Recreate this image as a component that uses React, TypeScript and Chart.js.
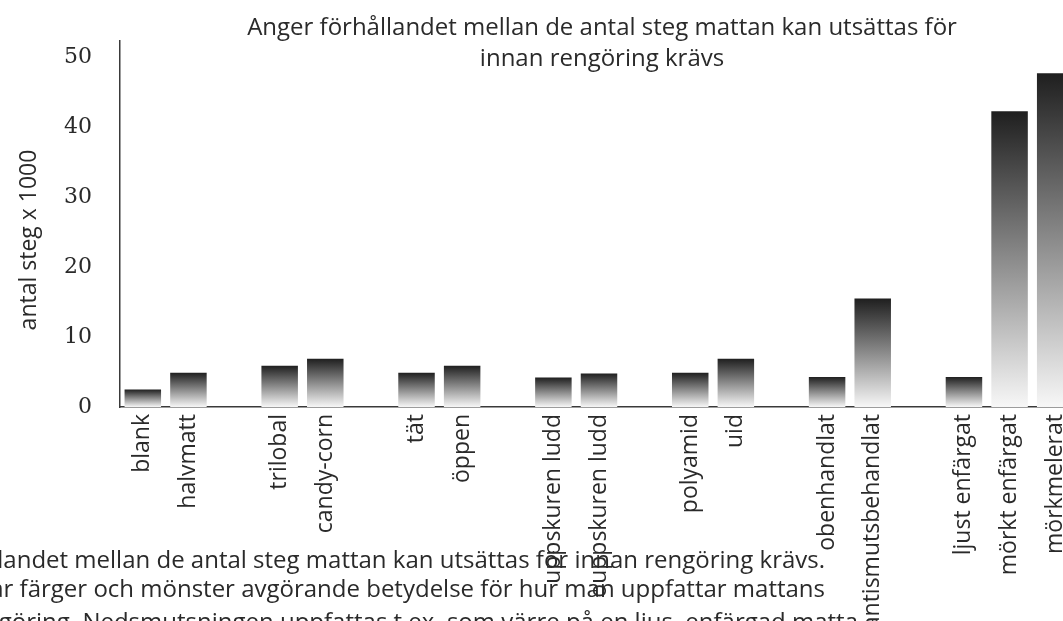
import React, { useEffect, useRef } from 'react';
import { Chart, registerables } from 'chart.js';

Chart.register(...registerables);

const categories = [
  'blank', 'halvmatt', '',
  'trilobal', 'candy-corn', '',
  'tät', 'öppen', '',
  'uppskuren ludd', 'ouppskuren ludd', '',
  'polyamid', 'uid', '',
  'obenhandlat', 'antismutsbehandlat', '',
  'ljust enfärgat', 'mörkt enfärgat', 'mörkmelerat',
];

const stepsThousands = [
  2.5, 4.9, null,
  5.9, 6.9, null,
  4.9, 5.9, null,
  4.2, 4.8, null,
  4.9, 6.9, null,
  4.3, 15.5, null,
  4.3, 42.3, 47.7,
];

const yTickValues = [0, 10, 20, 30, 40, 50];

const titleLines = [
  'Anger förhållandet mellan de antal steg mattan kan utsättas för',
  'innan rengöring krävs',
];

const yAxisTitle = 'antal steg x 1000';

const captionLines = [
  'förhållandet mellan de antal steg mattan kan utsättas för innan rengöring krävs.',
  'har färger och mönster avgörande betydelse för hur man uppfattar mattans',
  'rengöring. Nedsmutsningen uppfattas t ex. som värre på en ljus, enfärgad matta',
];

const SANS = '"Open Sans", "Noto Sans", sans-serif';
const SERIF = '"DejaVu Serif", "Liberation Serif", serif';
const INK = '#2a2a2a';

const overlayText = {
  id: 'overlayText',
  afterDraw(chart: any) {
    const { ctx, chartArea } = chart;
    ctx.save();
    ctx.fillStyle = INK;
    ctx.textBaseline = 'alphabetic';

    // title
    ctx.textAlign = 'center';
    ctx.font = `24px ${SANS}`;
    const cx = (chartArea.left + chartArea.right) / 2 + 3;
    ctx.fillText(titleLines[0], cx, 35);
    ctx.fillText(titleLines[1], cx, 66);

    // y axis title
    ctx.save();
    ctx.translate(36, 240);
    ctx.rotate(-Math.PI / 2);
    ctx.font = `23px ${SANS}`;
    ctx.textAlign = 'center';
    ctx.fillText(yAxisTitle, 0, 0);
    ctx.restore();

    // caption text below the chart
    ctx.textAlign = 'right';
    ctx.font = `24px ${SANS}`;
    ctx.fillText(captionLines[0], 825, 568);
    ctx.fillText(captionLines[1], 825, 597);
    ctx.fillText(captionLines[2], 858, 630);
    ctx.restore();
  },
};

function barGradient(context: any) {
  const chart = context.chart;
  const { ctx, chartArea, scales } = chart;
  if (context.type !== 'data' || !chartArea || !scales || !scales.y) return '#555';
  const v = context.raw;
  if (v == null) return 'rgba(0,0,0,0)';
  const top = scales.y.getPixelForValue(v);
  const base = scales.y.getPixelForValue(0);
  if (!isFinite(top) || !isFinite(base) || top === base) return '#555';
  const g = ctx.createLinearGradient(0, top, 0, base);
  g.addColorStop(0, '#1f1f1f');
  g.addColorStop(1, '#f7f7f7');
  return g;
}

export default function App() {
  const canvasRef = useRef<HTMLCanvasElement | null>(null);

  useEffect(() => {
    const canvas = canvasRef.current;
    if (!canvas) return;
    const chart = new Chart(canvas, {
      type: 'bar',
      data: {
        labels: categories,
        datasets: [
          {
            data: stepsThousands,
            backgroundColor: barGradient,
            borderWidth: 0,
            barPercentage: 0.8,
            categoryPercentage: 1,
          },
        ],
      },
      options: {
        responsive: false,
        animation: false,
        devicePixelRatio: 1,
        layout: { padding: { top: 38, right: 22, left: 0, bottom: 0 } },
        plugins: {
          legend: { display: false },
          title: { display: false },
          tooltip: { enabled: false },
        },
        scales: {
          x: {
            type: 'category',
            offset: true,
            grid: { display: false, drawTicks: false },
            border: { display: true, color: '#3a3a3a', width: 1.5 },
            ticks: {
              autoSkip: false,
              maxRotation: 90,
              minRotation: 90,
              padding: 7,
              color: INK,
              font: { family: SANS, size: 23 },
            },
            afterFit: (s: any) => {
              s.height = 214;
            },
          },
          y: {
            min: 0,
            max: 52.3,
            grid: { display: false, drawTicks: false },
            border: { display: true, color: '#3a3a3a', width: 1.5 },
            ticks: {
              stepSize: 10,
              padding: 28,
              color: INK,
              font: { family: SERIF, size: 22 },
            },
            afterBuildTicks: (s: any) => {
              s.ticks = yTickValues.map((v) => ({ value: v }));
            },
            afterFit: (s: any) => {
              s.width = 120;
            },
          },
        },
      },
      plugins: [overlayText],
    });
    return () => chart.destroy();
  }, []);

  return (
    <div
      style={{
        position: 'absolute',
        left: 0,
        top: 0,
        width: 1063,
        height: 621,
        overflow: 'hidden',
        background: '#fff',
      }}
    >
      <canvas
        ref={canvasRef}
        width={1100}
        height={621}
        style={{ display: 'block', width: 1100, height: 621 }}
      />
    </div>
  );
}
